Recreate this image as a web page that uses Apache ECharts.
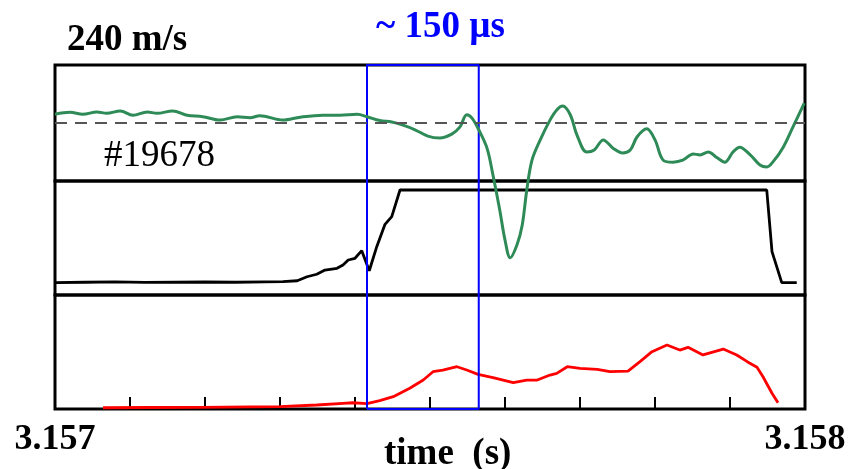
<!DOCTYPE html>
<html>
<head>
<meta charset="utf-8">
<script src="https://cdn.jsdelivr.net/npm/echarts@6/dist/echarts.min.js"></script>
<style>
html,body{margin:0;padding:0;background:#fff;}
#c{width:852px;height:469px;}
</style>
</head>
<body>
<div id="c"></div>
<script>
// time axis in microseconds (3.157 s = 3157000 us)
const tStart = 3157000;
const tEnd = 3158000;
const tStep = 100;
const tickLabels = ['3.157', '3.158'];
const panelLabel = '240 m/s';
const shotLabel = '#19678';
const windowLabel = '~ 150 \u00b5s';
const axisTitle = 'time  (s)';

// window marked by the blue box (us offsets from 3.157 s)
const windowStart = 416;
const windowEnd = 565;

// top panel: velocity (m/s), offset us from 3.157 s
const velT = [0,20,37,56,69,87,104,123,136,157,176,197,220,243,260,273,304,327,357,380,403,416,433,449,463,480,497,513,529,540,549,556,565,576,584,593,600,607,616,623,629,636,647,660,669,677,687,696,709,719,731,744,757,767,776,789,800,811,824,837,851,860,871,883,893,904,913,927,940,949,957,971,984,999];
const velV = [18,22,18,23,20,25,16,23,20,25,16,13,6,13,11,15,6,12,16,16,18,13,5,2,-4,-14,-27,-31,-23,-8,17,10,-14,-52,-108,-180,-242,-279,-252,-211,-139,-77,-35,6,27,35,17,-25,-60,-56,-35,-52,-62,-56,-29,-12,-35,-77,-81,-77,-64,-66,-60,-72,-81,-60,-50,-66,-87,-91,-81,-50,-8,41];

// middle panel: signal (a.u.)
const midT = [0,40,80,120,160,200,240,280,304,323,336,349,360,376,384,391,400,409,419,429,440,449,460,949,956,969,989];
const midV = [10.8,11.2,11.6,11.0,11.2,11.4,11.2,11.6,11.7,12.5,16,18.2,21.9,23.4,26.3,30.7,32.2,38.9,21.3,42.4,62,68.7,92.1,92.1,38,10.8,10.8];

// bottom panel: signal (a.u.)
const lowT = [64,127,193,260,300,349,384,397,416,433,451,473,491,504,517,536,549,564,584,611,629,643,660,669,683,700,723,740,764,780,796,816,833,844,864,891,909,923,936,944,956,964];
const lowV = [1.1,1.3,1.5,1.8,2.0,3.5,5.0,5.5,4.8,7.3,10.8,18.2,25.4,32.7,34.2,37.1,34.2,30.4,27.5,23.1,25.4,25.4,29.8,31.3,37.1,35.7,34.8,32.7,33.3,41.5,50.3,56.1,51.7,54.1,47.4,52.6,47.4,41.5,36.6,28.3,13.8,5.5];

function pairs(ts, vs) { return ts.map((t, i) => [tStart + t, vs[i]]); }

const chart = echarts.init(document.getElementById('c'), null, {renderer: 'canvas'});
const gridBase = {left: 55, right: 47, show: true, borderColor: '#000', borderWidth: 3, backgroundColor: 'transparent'};
const xBase = {type: 'value', min: tStart, max: tEnd, interval: tStep, splitLine: {show: false}};
const serif = '"Liberation Serif","Times New Roman",serif';

const option = {
  animation: false,
  backgroundColor: '#fff',
  grid: [
    Object.assign({top: 65, height: 116}, gridBase),
    Object.assign({top: 181, height: 114}, gridBase),
    Object.assign({top: 295, height: 114}, gridBase),
    {left: 55, right: 47, top: 65, height: 344, show: false}
  ],
  xAxis: [
    Object.assign({gridIndex: 0, show: false}, xBase),
    Object.assign({gridIndex: 1, show: false}, xBase),
    Object.assign({gridIndex: 2,
      axisLine: {show: false},
      axisTick: {show: true, inside: true, length: 12, lineStyle: {color: '#000', width: 2}},
      axisLabel: {
        show: true, margin: 13, color: '#000',
        fontFamily: serif, fontWeight: 'bold', fontSize: 36,
        showMinLabel: true, showMaxLabel: true,
        formatter: function (v) {
          if (v === tStart) return tickLabels[0];
          if (v === tEnd) return tickLabels[1];
          return '';
        }
      }
    }, xBase),
    Object.assign({gridIndex: 3, show: false}, xBase)
  ],
  yAxis: [
    {gridIndex: 0, type: 'value', min: -120, max: 120, show: false, splitLine: {show: false}},
    {gridIndex: 1, type: 'value', min: 0, max: 100, show: false, splitLine: {show: false}},
    {gridIndex: 2, type: 'value', min: 0, max: 100, show: false, splitLine: {show: false}},
    {gridIndex: 3, type: 'value', min: 0, max: 1, show: false, splitLine: {show: false}}
  ],
  series: [
    {
      type: 'line', xAxisIndex: 3, yAxisIndex: 3, symbol: 'none', z: 3,
      lineStyle: {color: '#0000ff', width: 2},
      data: [[tStart + windowStart, 0], [tStart + windowStart, 1], [tStart + windowEnd, 1], [tStart + windowEnd, 0], [tStart + windowStart, 0]]
    },
    {
      type: 'line', xAxisIndex: 0, yAxisIndex: 0, symbol: 'none', smooth: 0.35, clip: false, z: 4,
      lineStyle: {color: '#2e8b57', width: 3},
      data: pairs(velT, velV),
      markLine: {
        silent: true, symbol: 'none', label: {show: false},
        lineStyle: {color: '#555', width: 2, type: [12, 8]},
        data: [{yAxis: 0}]
      }
    },
    {
      type: 'line', xAxisIndex: 1, yAxisIndex: 1, symbol: 'none', z: 2,
      lineStyle: {color: '#000', width: 2.8},
      data: pairs(midT, midV)
    },
    {
      type: 'line', xAxisIndex: 2, yAxisIndex: 2, symbol: 'none', z: 2,
      lineStyle: {color: '#ff0000', width: 2.8},
      data: pairs(lowT, lowV)
    }
  ],
  graphic: [
    {type: 'text', left: 67, top: 22, style: {text: panelLabel, font: 'bold 37px ' + serif, fill: '#000'}},
    {type: 'text', left: 376, top: 9, style: {text: windowLabel, font: 'bold 37px ' + serif, fill: '#0000ff'}},
    {type: 'text', left: 104, top: 138, style: {text: shotLabel, font: '37px ' + serif, fill: '#000'}},
    {type: 'text', left: 384, top: 436, style: {text: axisTitle, font: 'bold 37px ' + serif, fill: '#000'}}
  ]
};
chart.setOption(option);
</script>
</body>
</html>
